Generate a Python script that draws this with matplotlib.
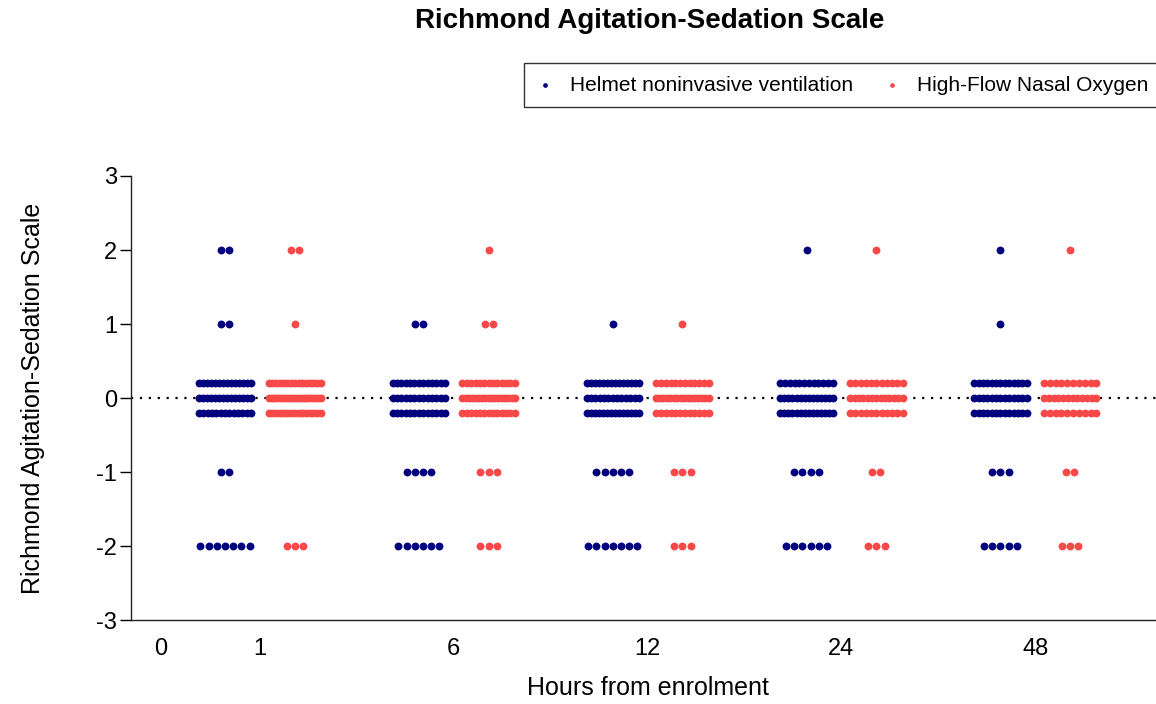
import matplotlib.pyplot as plt
import numpy as np

plt.rcParams['font.family'] = ['Liberation Sans', 'DejaVu Sans']
plt.rcParams['axes.unicode_minus'] = False

# time points and tick labels
hours = ['1', '6', '12', '24', '48']
tick_labels = ['0', '1', '6', '12', '24', '48']
tick_pos = [0.49, 1, 2, 3, 4, 5]

# RASS scores shown as separate rows
scores = [2, 1, -1, -2]

# counts of patients per score (rows: time points, cols: scores 2, 1, -1, -2)
helmet_counts = [[2, 2, 2, 7],
                 [0, 2, 4, 6],
                 [0, 1, 5, 7],
                 [1, 0, 4, 6],
                 [1, 1, 3, 5]]
hfno_counts = [[2, 1, 0, 3],
               [1, 2, 3, 3],
               [0, 1, 3, 3],
               [1, 0, 2, 3],
               [1, 0, 2, 3]]

# score 0 is drawn in three stacked rows (upper, middle, lower)
helmet_zero = [[14, 14, 13],
               [13, 13, 13],
               [14, 13, 14],
               [12, 14, 14],
               [13, 13, 13]]
hfno_zero = [[15, 19, 15],
             [13, 17, 13],
             [12, 16, 12],
             [11, 13, 11],
             [10, 12, 10]]

blue = '#00007F'
red = '#F84848'

step = 0.0423     # spacing of dots in a sparse row
max_span = 0.27   # widest row, centre to centre


def row_x(center, n):
    if n <= 1:
        return np.full(n, float(center))
    d = min(step, max_span / (n - 1))
    return center + (np.arange(n) - (n - 1) / 2) * d


def group_points(center, counts, zero):
    xs, ys = [], []
    for s, n in zip(scores, counts):
        xs.extend(row_x(center, n))
        ys.extend([s] * n)
    for off, n in zip([0.2, 0.0, -0.2], zero):
        xs.extend(row_x(center, n))
        ys.extend([off] * n)
    return xs, ys


fig = plt.figure(figsize=(11.56, 7.04), dpi=100)
ax = fig.add_axes([0.1133, 0.1193, 0.95, 0.6307])

ax.axhline(0, color='black', linestyle=(0, (1, 3)), lw=1.6, zorder=1)

for i in range(len(hours)):
    c = i + 1
    bx, by = group_points(c - 0.18, helmet_counts[i], helmet_zero[i])
    rx, ry = group_points(c + 0.18, hfno_counts[i], hfno_zero[i])
    ax.scatter(bx, by, s=32, color=blue, linewidths=0, zorder=3,
               label='Helmet noninvasive ventilation' if i == 0 else None)
    ax.scatter(rx, ry, s=32, color=red, linewidths=0, zorder=3,
               label='High-Flow Nasal Oxygen' if i == 0 else None)

ax.set_xlim(0.335, 6.0)
ax.set_ylim(-3, 3)
ax.set_yticks(range(-3, 4))
ax.set_xticks(tick_pos)
ax.set_xticklabels(tick_labels)
ax.tick_params(axis='x', length=0, pad=13, labelsize=17)
ax.tick_params(axis='y', length=8, width=1, labelsize=17, direction='out',
               pad=2)
for sp in ['top', 'right']:
    ax.spines[sp].set_visible(False)
for sp in ['left', 'bottom']:
    ax.spines[sp].set_color('#222222')
    ax.spines[sp].set_linewidth(1)

ax.set_xlabel('Hours from enrolment', fontsize=18)
ax.xaxis.set_label_coords(0.471, -0.125)
ax.set_ylabel('Richmond Agitation-Sedation Scale', fontsize=18)
ax.yaxis.set_label_coords(-0.078, 0.5)

fig.text(0.562, 0.97, 'Richmond Agitation-Sedation Scale', fontsize=20,
         fontweight='bold', ha='center', va='center')

leg = fig.legend(loc='upper left', bbox_to_anchor=(0.453, 0.9105), ncol=2,
                 fontsize=15, frameon=True, fancybox=False, edgecolor='black',
                 markerscale=0.6, handletextpad=0.8, columnspacing=1.5,
                 borderpad=0.6, handlelength=0.8, borderaxespad=0)
leg.get_frame().set_linewidth(1)

fig.savefig('out.png', dpi=100)
